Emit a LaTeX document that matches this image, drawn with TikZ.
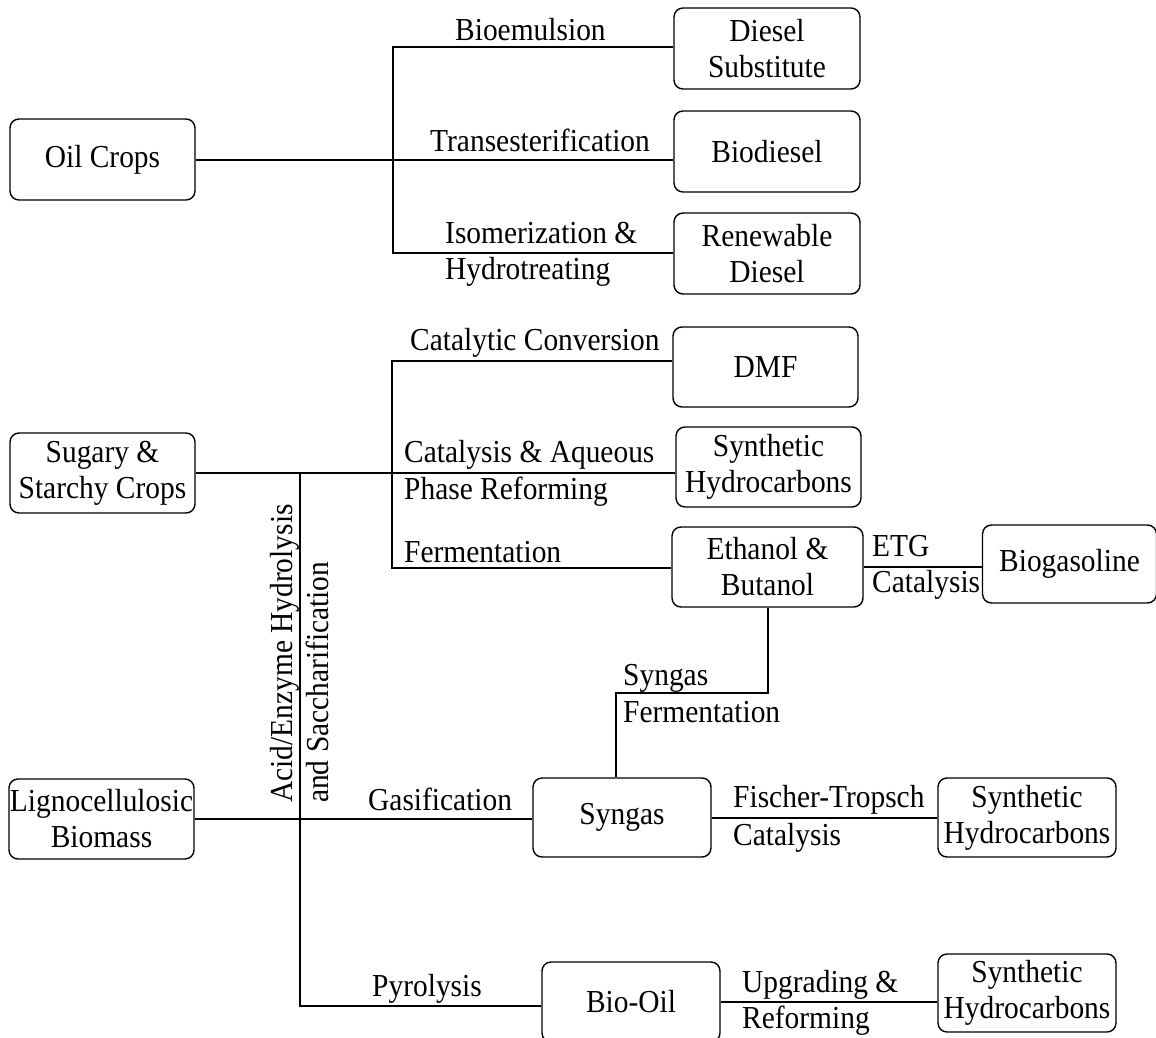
\documentclass[tikz,border=0pt]{standalone}
\usepackage{fontspec}
\setmainfont{Liberation Serif}[FakeStretch=0.92]
\begin{document}
\begin{tikzpicture}[x=1pt,y=-1pt,
  every node/.style={font=\fontsize{32}{36}\selectfont, inner sep=0pt},
  box/.style={draw, rounded corners=9pt, line width=1.4pt, align=center},
  conn/.style={line width=2pt},
  lbl/.style={anchor=base west}]
\clip (0,0) rectangle (1156,1038);
% boxes
\node[box, minimum width=185pt, minimum height=81pt] (oil) at (102.5,159.5) {Oil Crops};
\node[box, minimum width=186pt, minimum height=81pt] (diesel) at (767,48.5) {Diesel\\Substitute};
\node[box, minimum width=186pt, minimum height=81pt] (biod) at (767,151.5) {Biodiesel};
\node[box, minimum width=186pt, minimum height=81pt] (renew) at (767,253.5) {Renewable\\Diesel};
\node[box, minimum width=185pt, minimum height=80pt] (sugary) at (102.5,473) {Sugary \&\\Starchy Crops};
\node[box, minimum width=185pt, minimum height=80pt] (dmf) at (765.5,367) {DMF};
\node[box, minimum width=185pt, minimum height=80pt] (synA) at (768.5,467) {Synthetic\\Hydrocarbons};
\node[box, minimum width=191pt, minimum height=80pt] (eth) at (767.5,567) {Ethanol \&\\Butanol};
\node[box, minimum width=174pt, minimum height=78pt] (biog) at (1069.5,564) {Biogasoline};
\node[box, minimum width=185pt, minimum height=80pt] (ligno) at (101.5,819) {Lignocellulosic\\Biomass};
\node[box, minimum width=178pt, minimum height=79pt] (syn) at (622,817.5) {Syngas};
\node[box, minimum width=178pt, minimum height=79pt] (synB) at (1027,817.5) {Synthetic\\Hydrocarbons};
\node[box, minimum width=178pt, minimum height=80pt] (bio) at (631,1002) {Bio-Oil};
\node[box, minimum width=178pt, minimum height=78pt] (synC) at (1027,993) {Synthetic\\Hydrocarbons};
% junction coordinates
\coordinate (j1t) at (393,47);
\coordinate (j1b) at (393,253);
\coordinate (j2t) at (392,361);
\coordinate (j2b) at (392,568);
\coordinate (j3) at (616,693);
\coordinate (a1) at (300,473);
\coordinate (a2) at (300,1006);
% connectors
\draw[conn] (oil.east) -- (oil.east -| biod.west);
\draw[conn] (j1t -| diesel.west) -- (j1t) -- (j1b) -- (j1b -| renew.west);
\draw[conn] (sugary.east) -- (sugary.east -| synA.west);
\draw[conn] (j2t -| dmf.west) -- (j2t) -- (j2b) -- (j2b -| eth.west);
\draw[conn] (eth.east) -- (eth.east -| biog.west);
\draw[conn] (eth.south) |- (j3) -- (j3 |- syn.north);
\draw[conn] (a1) -- (a2) -- (a2 -| bio.west);
\draw[conn] (ligno.east) -- (ligno.east -| syn.west);
\draw[conn] (syn.east) -- (syn.east -| synB.west);
\draw[conn] (bio.east) -- (bio.east -| synC.west);
% labels
\node[lbl] (l1) at (455,41) {Bioemulsion};
\node[lbl] (l2) at (430,151) {Transesterification};
\node[lbl] (l3a) at (445,243) {Isomerization \&};
\node[lbl] (l3b) at (445,279) {Hydrotreating};
\node[lbl] (l4) at (410,350) {Catalytic Conversion};
\node[lbl] (l5a) at (404,462) {Catalysis \& Aqueous};
\node[lbl] (l5b) at (404,499) {Phase Reforming};
\node[lbl] (l6) at (404,562) {Fermentation};
\node[lbl] (l7a) at (872,556) {ETG};
\node[lbl] (l7b) at (872,592) {Catalysis};
\node[lbl] (l8a) at (623,685) {Syngas};
\node[lbl] (l8b) at (623,722) {Fermentation};
\node[lbl] (l9) at (368,810) {Gasification};
\node[lbl] (l10a) at (733,807) {Fischer-Tropsch};
\node[lbl] (l10b) at (733,845) {Catalysis};
\node[lbl] (l11) at (372,996) {Pyrolysis};
\node[lbl] (l12a) at (742,992) {Upgrading \&};
\node[lbl] (l12b) at (742,1028) {Reforming};
\node[lbl, rotate=90] (l13a) at (292,803) {Acid/Enzyme Hydrolysis};
\node[lbl, rotate=90] (l13b) at (328,803) {and Saccharification};
\end{tikzpicture}
\end{document}
